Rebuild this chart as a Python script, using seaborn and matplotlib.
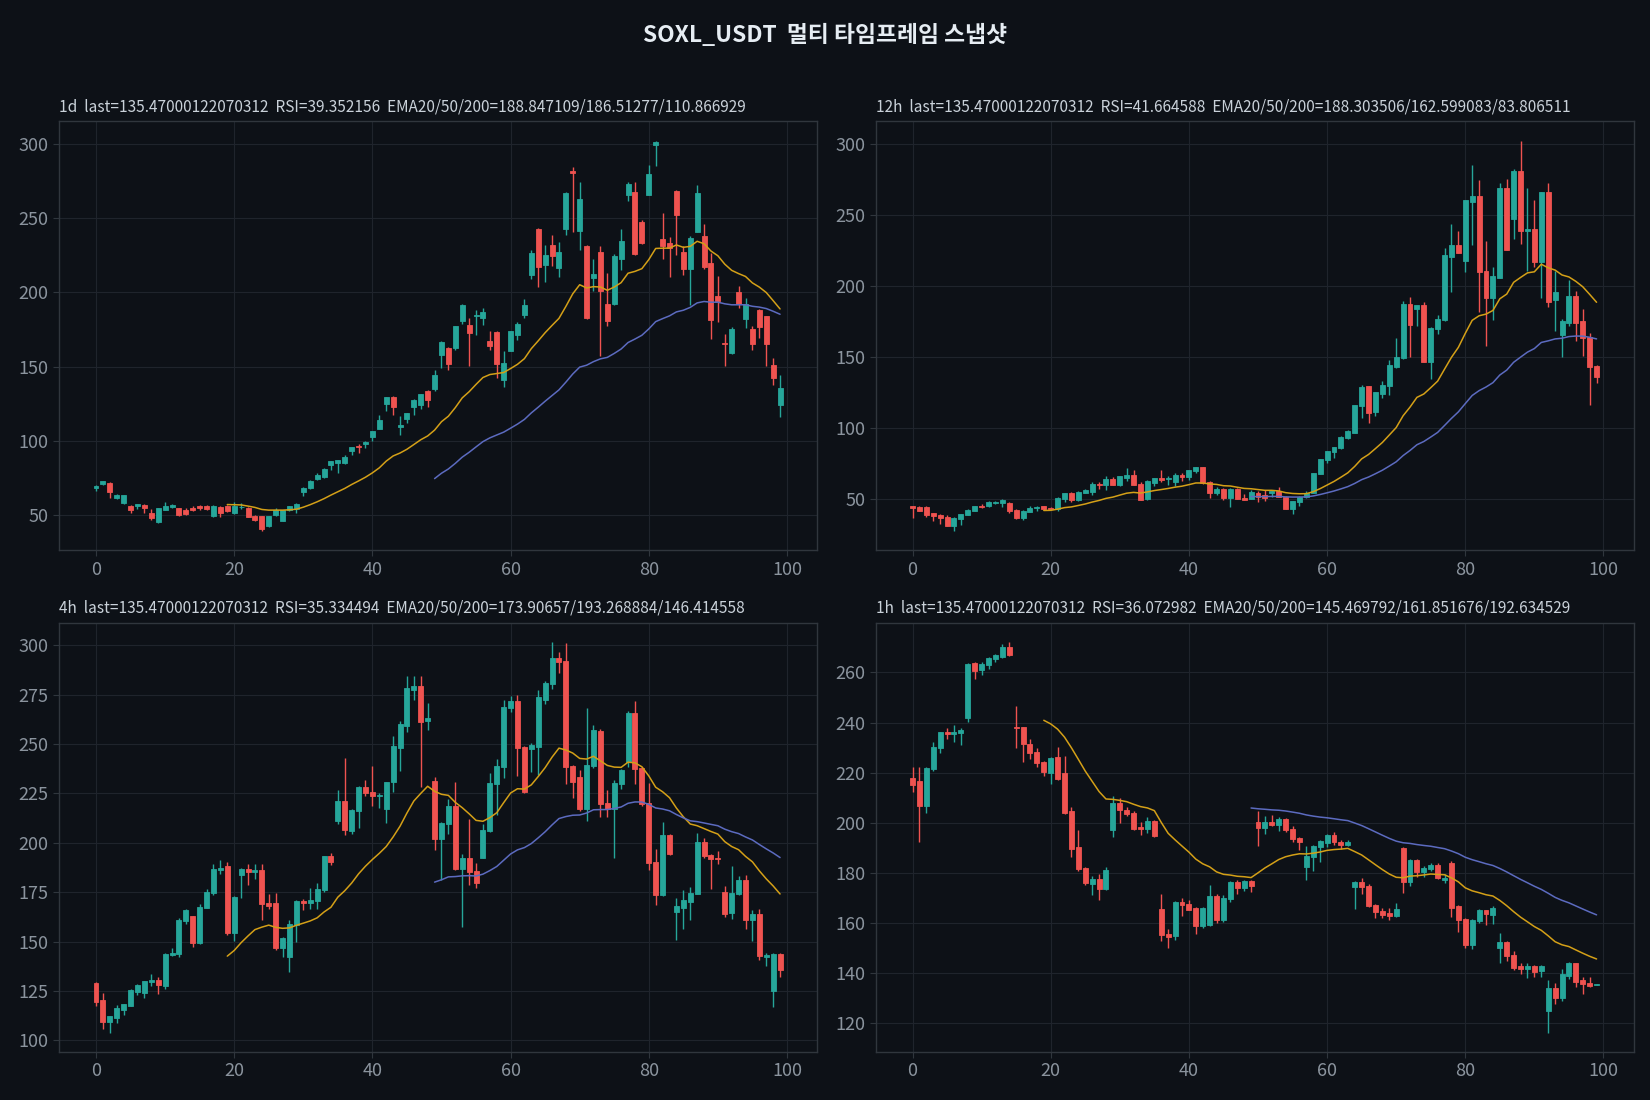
import numpy as np
import pandas as pd
import matplotlib
matplotlib.use("Agg")
import matplotlib.pyplot as plt
import seaborn as sns
from matplotlib.ticker import MultipleLocator

# ---------------- data ----------------
title_text = "SOXL_USDT  멀티 타임프레임 스냅샷"

hdr_1d = "1d  last=135.47000122070312  RSI=39.352156  EMA20/50/200=188.847109/186.51277/110.866929"
hdr_12h = "12h  last=135.47000122070312  RSI=41.664588  EMA20/50/200=188.303506/162.599083/83.806511"
hdr_4h = "4h  last=135.47000122070312  RSI=35.334494  EMA20/50/200=173.90657/193.268884/146.414558"
hdr_1h = "1h  last=135.47000122070312  RSI=36.072982  EMA20/50/200=145.469792/161.851676/192.634529"

# 1d
o_1d = [68.3,70.8,71.7,61.4,57.8,56.0,55.8,56.3,50.9,45.1,53.4,55.1,54.3,52.9,54.9,56.0,55.6,49.1,55.3,55.6,
        51.1,55.0,54.9,48.9,48.9,42.4,49.6,45.8,52.9,54.0,65.6,67.9,73.9,75.3,83.3,84.6,84.6,92.7,96.5,97.6,
        102.7,108.1,124.9,129.3,109.0,114.8,122.8,124.2,133.3,134.9,157.7,162.6,162.4,180.7,178.0,183.8,182.5,167.3,173.6,140.9,
        160.6,171.1,184.5,211.5,243.0,218.7,232.3,216.7,242.8,281.9,241.5,231.6,210.0,227.6,192.1,192.1,222.3,266.0,267.8,247.7,
        265.8,299.3,236.3,233.6,268.5,227.2,216.0,241.0,238.3,219.6,197.7,165.9,159.0,200.1,182.0,175.3,188.1,184.0,151.2,124.2]
h_1d = [69.8,73.0,72.2,63.8,63.6,56.4,57.4,57.6,53.8,54.6,58.3,57.6,54.6,54.5,55.6,56.4,56.9,56.3,55.6,56.9,
        58.3,57.7,55.2,49.6,49.2,49.2,54.4,53.2,55.9,57.7,68.4,73.3,78.3,81.4,86.5,87.2,90.0,95.9,97.6,99.5,
        106.6,117.0,129.6,130.0,116.6,118.7,128.0,131.6,134.2,147.6,167.1,163.0,177.6,191.9,182.5,188.3,189.6,174.0,174.0,160.6,
        174.3,180.3,195.4,228.6,243.3,231.7,239.0,234.3,267.5,284.8,274.5,232.0,222.3,231.0,213.0,226.1,242.8,274.5,274.8,248.8,
        286.0,302.5,253.6,237.2,269.0,231.2,238.3,272.3,246.5,226.5,211.1,172.2,176.8,204.3,196.3,177.5,188.5,184.4,156.1,144.5]
l_1d = [65.9,70.0,61.2,60.5,57.5,50.9,53.6,50.9,46.4,44.2,53.0,54.8,49.1,50.0,52.5,52.9,53.5,48.4,48.4,52.0,
        50.8,54.0,48.2,45.9,39.1,42.0,49.3,45.5,52.6,51.5,62.9,67.6,73.6,75.0,80.4,78.4,84.3,90.5,91.8,95.1,
        99.5,107.8,120.2,117.3,103.6,111.8,117.3,121.3,123.0,133.3,148.8,147.9,161.0,178.5,150.1,171.3,177.8,161.0,142.3,136.1,
        160.3,167.7,183.0,209.3,203.9,207.1,217.9,210.4,238.9,241.0,228.3,182.0,201.1,156.8,177.3,191.8,215.0,261.6,225.4,232.8,
        265.6,285.6,222.7,210.4,225.4,211.9,191.7,240.7,215.9,168.4,179.9,150.1,158.7,189.3,176.1,161.0,169.5,150.1,137.4,116.3]
c_1d = [69.4,72.8,65.2,63.4,63.4,53.1,57.2,54.5,47.8,54.3,55.6,56.9,49.8,50.4,52.9,54.3,53.8,55.6,51.1,52.5,
        55.6,55.3,48.4,46.6,40.4,48.9,53.3,52.9,55.6,57.4,68.1,73.0,77.0,81.1,86.2,86.9,89.1,95.6,95.6,99.2,
        106.3,113.7,129.3,122.8,110.4,118.4,127.7,131.3,127.5,144.5,166.8,151.7,177.3,191.2,172.6,184.9,186.7,163.7,151.7,152.6,
        174.0,178.7,191.6,226.3,217.3,225.0,224.3,227.6,267.2,280.3,263.1,182.5,212.2,201.3,180.5,224.3,235.0,273.2,226.1,233.4,
        280.1,301.3,231.6,230.3,252.2,215.5,237.0,267.2,217.3,181.1,194.3,165.2,175.3,191.9,192.5,165.1,176.7,165.3,142.5,135.47]

# 12h
o_12h = [44.6,44.4,44.4,39.7,38.8,37.4,31.1,35.8,38.8,41.4,45.3,44.6,47.0,47.2,47.2,42.3,36.7,40.9,43.3,44.9,
         43.7,43.0,50.0,53.9,48.9,54.2,54.7,60.7,59.8,64.0,59.6,64.6,67.0,60.7,49.7,61.2,64.7,63.8,61.9,66.8,
         65.4,69.6,72.4,62.1,54.2,57.2,50.5,57.2,50.9,50.0,53.9,52.7,54.4,55.6,51.6,42.8,47.7,51.2,54.2,67.5,
         77.3,82.7,85.5,92.5,96.7,115.1,129.1,110.9,124.0,129.6,143.1,149.0,187.5,183.5,186.8,146.4,169.5,175.8,220.6,228.6,
         217.4,258.9,262.9,210.1,191.2,205.7,269.2,247.0,281.1,238.4,239.8,217.1,266.4,189.8,165.5,173.7,193.1,174.9,163.7,143.8]
h_12h = [45.1,45.1,44.7,40.2,39.1,38.8,37.0,39.6,42.6,45.2,46.4,48.8,48.2,50.0,47.5,42.6,42.0,44.6,44.8,45.2,
         44.2,51.0,54.2,54.6,55.2,57.2,61.7,62.1,66.3,65.2,66.4,71.9,70.3,61.7,63.1,65.0,70.5,66.4,68.2,68.2,
         70.6,72.7,72.7,62.8,58.2,57.5,57.3,57.5,53.5,56.0,55.8,56.5,56.3,58.2,51.9,48.7,51.9,55.8,68.5,78.1,
         83.9,86.7,94.4,98.2,116.1,130.0,129.4,125.2,133.3,147.8,163.5,189.6,192.0,186.1,188.9,170.7,179.6,226.3,243.3,238.6,
         260.4,285.1,274.4,231.4,213.2,272.2,274.9,282.2,302.3,268.7,260.3,265.9,272.2,210.5,176.8,204.4,196.1,184.0,166.5,144.0]
l_12h = [36.5,41.2,37.2,34.1,32.1,30.8,27.4,31.6,38.5,41.1,43.5,44.3,46.1,44.2,40.0,35.6,35.1,40.6,41.6,41.9,
         42.5,41.4,47.9,47.7,48.6,53.9,52.6,56.8,56.5,59.5,58.9,62.3,59.5,49.0,49.4,58.9,62.1,60.0,58.7,62.3,
         63.6,68.0,60.3,50.5,52.6,49.2,44.2,49.7,49.2,49.7,47.7,48.4,51.6,51.3,42.5,39.3,45.3,50.9,53.9,67.2,
         75.0,79.1,85.2,91.8,96.4,107.1,103.7,108.6,121.1,123.0,142.1,148.8,149.7,172.0,146.1,134.4,166.2,175.5,195.9,223.1,
         209.4,228.6,181.4,157.4,176.1,205.4,225.2,233.2,229.6,210.6,213.0,191.7,185.4,167.9,149.7,171.9,160.9,150.8,116.1,131.7]
c_12h = [43.7,41.6,38.8,37.9,36.7,31.1,36.7,39.3,42.3,44.9,44.2,47.9,47.9,49.3,41.4,36.5,41.6,43.7,44.4,42.8,
         42.8,50.7,53.9,49.3,54.9,56.3,60.5,59.8,64.0,59.8,66.1,66.8,59.8,49.5,62.8,64.7,63.3,64.7,66.8,65.4,
         70.3,72.4,61.0,54.2,57.0,50.5,57.0,50.0,49.5,54.7,51.2,50.9,55.8,51.6,42.8,48.4,51.6,54.2,68.2,77.8,
         83.6,86.4,93.4,97.9,115.8,128.4,110.7,124.9,130.5,144.5,150.1,187.5,172.3,186.8,146.4,170.4,176.8,221.6,228.6,223.4,
         260.1,262.9,209.4,191.2,206.9,269.2,225.5,281.1,238.4,239.8,217.1,265.7,188.9,195.7,174.9,193.1,173.7,163.2,143.1,135.47]

# 4h
o_4h = [128.8,120.2,109.4,111.4,115.5,117.5,124.6,124.1,129.3,130.3,127.6,143.4,143.9,160.6,162.8,149.3,167.2,174.6,186.4,188.4,
        154.4,183.8,186.9,185.4,186.4,169.7,169.7,146.5,142.3,158.6,170.7,169.5,170.5,176.3,193.1,210.9,221.2,205.9,216.0,228.5,
        225.8,223.6,217.0,230.6,248.3,259.3,277.6,279.3,261.6,231.3,201.9,209.4,218.7,186.7,192.4,185.9,192.4,205.9,229.8,238.2,
        268.2,271.7,248.5,247.5,248.8,272.6,280.3,293.9,291.9,238.9,233.5,217.0,238.7,256.6,220.2,217.2,229.8,241.2,265.8,237.9,
        220.0,190.4,173.6,204.0,165.0,167.2,170.0,174.2,200.5,193.9,192.4,175.3,164.5,174.2,181.3,161.1,164.1,142.3,124.9,143.9]
h_4h = [129.6,123.7,112.4,117.8,118.5,126.2,128.3,130.1,133.8,132.0,144.2,146.9,162.1,166.5,163.1,169.0,176.8,189.4,191.4,190.4,
        172.9,187.2,189.4,189.4,189.4,174.2,174.6,152.2,160.8,170.9,171.7,177.3,179.5,193.4,195.1,226.9,242.8,217.0,229.0,232.0,
        239.1,225.2,231.0,254.3,261.9,284.6,284.3,284.3,271.0,233.5,210.7,222.4,231.0,194.1,212.3,189.9,209.6,235.6,242.4,272.4,
        274.4,274.9,249.2,250.5,277.3,281.8,301.7,296.6,301.2,239.6,237.0,268.2,259.6,257.6,226.7,231.8,237.5,267.0,271.9,238.4,
        230.1,196.9,210.7,204.5,171.9,176.3,177.6,204.9,202.5,194.2,196.1,178.1,188.1,183.3,183.9,165.8,166.6,144.4,144.4,144.2]
l_4h = [117.5,105.9,103.9,108.9,112.8,117.2,123.1,121.6,127.6,123.5,126.1,142.9,142.3,158.9,147.3,149.0,166.9,173.7,184.2,153.4,
        150.3,172.0,178.5,181.7,161.1,166.6,145.6,142.3,134.7,149.9,166.0,166.6,166.6,175.1,188.6,209.3,203.8,204.5,207.4,223.6,
        218.5,217.9,210.1,225.6,236.6,256.4,272.2,228.1,257.3,196.2,181.3,204.5,186.4,157.4,178.6,177.1,192.1,205.6,214.0,232.7,
        266.2,233.9,225.3,236.1,234.4,270.5,278.1,286.2,229.8,222.5,216.3,211.0,238.0,212.9,212.9,192.2,227.3,238.3,229.8,218.9,
        186.4,168.4,173.1,193.6,150.8,156.4,161.1,173.9,192.4,176.8,189.4,162.5,161.6,173.4,156.1,150.3,140.6,137.6,116.7,132.2]
c_4h = [119.5,109.4,112.1,116.2,118.2,125.3,127.8,129.8,130.3,127.8,143.9,144.4,161.1,166.2,149.3,167.7,175.1,186.9,187.4,154.4,
        172.7,186.9,185.4,186.4,169.2,168.0,146.5,152.0,159.1,170.7,169.5,171.2,176.8,193.1,190.2,221.2,206.6,216.7,228.5,225.1,
        223.7,224.4,230.8,249.2,260.1,278.5,279.3,261.4,263.1,201.7,210.3,218.9,186.7,192.4,185.4,179.6,206.6,230.3,238.9,268.7,
        271.7,248.0,225.6,249.7,273.7,280.8,293.9,291.4,238.2,230.6,217.0,239.4,257.1,219.7,217.2,230.3,237.0,265.8,237.4,219.7,
        189.9,173.6,204.0,194.4,167.8,171.2,174.7,200.5,193.4,191.8,191.9,164.1,174.7,181.3,161.1,164.1,142.6,143.1,143.9,135.47]

# 1h
o_1h = [217.8,216.6,206.7,221.4,229.8,236.1,235.6,235.7,241.7,263.6,260.8,262.8,265.4,266.2,270.1,238.2,238.1,231.4,228.2,224.2,
        219.7,226.2,219.8,204.7,190.4,182.0,175.7,177.7,173.7,197.2,207.9,205.1,203.8,198.5,197.6,200.9,165.7,155.8,154.9,168.4,
        167.7,165.9,159.0,159.4,170.8,161.4,169.7,176.3,174.1,176.7,200.5,198.0,200.3,199.1,201.5,197.6,194.0,182.3,186.3,190.3,
        191.9,195.2,192.5,191.1,174.4,176.3,174.8,167.3,164.9,163.8,162.8,189.9,176.3,185.1,180.5,181.7,183.1,177.1,184.0,166.7,
        161.8,151.4,160.8,165.1,163.2,150.1,152.3,147.2,142.8,141.5,142.8,140.7,124.8,134.1,130.2,139.0,143.9,137.2,136.0,135.4]
h_1h = [222.4,222.4,222.3,232.1,236.4,237.7,239.0,237.7,263.6,264.1,264.0,266.1,267.2,271.5,272.1,246.6,238.4,233.3,229.7,224.6,
        226.3,230.3,226.6,206.4,197.2,182.5,178.9,179.4,182.3,210.8,209.9,206.2,204.8,200.5,202.2,201.2,171.6,157.8,168.7,170.1,
        169.3,166.2,166.4,175.3,171.7,171.1,176.6,177.0,177.1,177.1,204.9,202.9,203.3,202.2,202.0,198.9,194.4,190.7,191.1,193.2,
        195.5,196.3,193.2,193.3,176.6,177.9,175.7,167.7,166.1,166.1,168.0,190.3,185.5,185.5,182.8,183.8,183.8,179.7,184.6,167.3,
        162.2,161.8,165.6,165.3,166.8,155.9,152.8,148.9,143.9,143.9,143.1,143.1,137.3,136.2,141.6,144.4,144.1,138.6,138.6,135.6]
l_1h = [212.1,192.3,203.8,220.8,227.7,233.6,232.4,231.2,240.4,257.5,259.0,261.5,264.2,265.6,266.5,230.0,224.2,225.3,222.2,218.7,
        215.3,217.0,203.5,186.3,180.7,175.3,171.3,169.3,173.3,194.2,199.8,202.9,197.3,195.2,196.1,194.2,153.0,150.0,153.2,162.7,
        165.0,155.6,158.1,158.9,160.0,160.5,168.4,171.6,172.9,172.2,190.7,195.5,198.6,196.7,196.3,192.3,189.2,177.1,180.7,184.3,
        190.3,191.0,189.6,190.7,165.7,171.5,166.4,162.2,162.2,161.3,162.5,172.0,174.7,178.2,178.2,180.7,177.5,175.9,162.4,156.5,
        150.2,149.8,160.0,159.2,159.5,144.0,144.7,141.4,139.6,137.9,138.5,138.3,116.3,127.6,128.8,137.8,134.6,131.5,134.6,135.3]
c_1h = [215.1,206.7,222.0,230.3,236.1,235.3,236.3,237.1,263.2,260.7,263.3,265.8,266.9,270.1,266.9,237.8,231.4,227.7,223.8,220.2,
        225.8,217.4,203.8,189.6,181.6,176.1,177.7,173.7,181.3,207.9,205.1,203.5,197.6,197.6,200.9,194.6,155.4,154.5,168.4,167.3,
        165.3,159.0,165.9,170.8,161.4,170.1,176.3,174.1,176.7,174.9,198.0,200.5,199.3,201.5,197.2,193.6,192.4,186.8,190.9,192.8,
        195.2,192.3,191.3,192.5,176.3,174.4,166.8,164.5,163.1,162.8,165.7,176.3,185.1,180.2,182.1,183.1,177.9,178.0,166.1,161.4,
        151.4,161.4,165.1,163.5,165.9,152.3,146.8,142.1,141.5,142.7,140.6,142.8,134.1,130.2,139.6,143.9,136.6,135.5,135.0,135.47]

# EMA values where each line starts (EMA20 at index 19, EMA50 at index 49)
ema20_start = [56.9, 41.8, 142.6, 240.9]
ema50_start = [74.4, 51.6, 180.1, 205.9]

panels = [
    (hdr_1d, o_1d, h_1d, l_1d, c_1d, 50),
    (hdr_12h, o_12h, h_12h, l_12h, c_12h, 50),
    (hdr_4h, o_4h, h_4h, l_4h, c_4h, 25),
    (hdr_1h, o_1h, h_1h, l_1h, c_1h, 20),
]

# ---------------- style ----------------
BG = "#0d1117"
GRID = "#1f242c"
SPINE = "#30363d"
TICK = "#8b949e"
UP = "#26a69a"
DOWN = "#ef5350"
EMA20_C = "#d4a017"
EMA50_C = "#5c6bc0"

sns.set_theme(style="dark", rc={
    "figure.facecolor": BG,
    "axes.facecolor": BG,
    "axes.edgecolor": SPINE,
    "grid.color": GRID,
    "axes.grid": True,
    "xtick.color": TICK,
    "ytick.color": TICK,
    "text.color": "#c9d1d9",
    "axes.labelcolor": TICK,
})
plt.rcParams['font.family'] = ['Noto Sans CJK KR', 'DejaVu Sans']


def ema_from(close, start_idx, start_val, span):
    seq = pd.Series([start_val] + list(close[start_idx + 1:]))
    vals = seq.ewm(span=span, adjust=False).mean().values
    return np.arange(start_idx, len(close)), vals


fig, axes = plt.subplots(2, 2, figsize=(16.5, 11), dpi=100)
fig.subplots_adjust(left=0.0358, right=0.990, top=0.89, bottom=0.0436,
                    wspace=0.0773, hspace=0.168)

for k, (ax, (hdr, o, h, l, c, ystep)) in enumerate(zip(axes.flat, panels)):
    o = np.array(o); h = np.array(h); l = np.array(l); c = np.array(c)
    x = np.arange(len(c))
    cols = np.where(c >= o, UP, DOWN)
    ax.vlines(x, l, h, colors=cols, linewidth=1.0, zorder=2)
    bottom = np.minimum(o, c)
    height = np.abs(c - o)
    ax.bar(x, height, bottom=bottom, width=0.72, color=cols,
           edgecolor=cols, linewidth=0.6, zorder=3)

    x20, e20 = ema_from(c, 19, ema20_start[k], 20)
    x50, e50 = ema_from(c, 49, ema50_start[k], 50)
    sns.lineplot(x=x20, y=e20, ax=ax, color=EMA20_C, linewidth=1.1, zorder=4)
    sns.lineplot(x=x50, y=e50, ax=ax, color=EMA50_C, linewidth=1.1, zorder=4)

    ax.set_facecolor(BG)
    ax.grid(True, color=GRID, linewidth=0.8)
    ax.set_axisbelow(True)
    for s in ax.spines.values():
        s.set_visible(True)
        s.set_color(SPINE)
        s.set_linewidth(1.0)
    ax.xaxis.set_major_locator(MultipleLocator(20))
    ax.yaxis.set_major_locator(MultipleLocator(ystep))
    ax.tick_params(axis="both", colors=TICK, labelsize=13, length=4,
                   width=0.8, bottom=True, left=True)
    ax.tick_params(axis="both", color=SPINE)
    ax.set_xlabel("")
    ax.set_ylabel("")
    ax.set_title(hdr, loc="left", fontsize=11.1, color="#c9d1d9", pad=7)

fig.suptitle(title_text, x=0.5, y=0.968, fontsize=16.4, fontweight="bold",
             color="#e6edf3", va="center")

fig.savefig("out.png", dpi=100, facecolor=BG)
